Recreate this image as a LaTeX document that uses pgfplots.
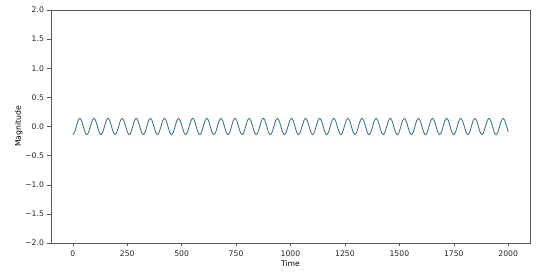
\documentclass[border=0pt]{standalone}
\usepackage{fontspec}
\setmainfont{DejaVu Sans}
\usepackage{pgfplots}
\pgfplotsset{compat=1.18}
\definecolor{lc}{RGB}{56,114,138}
\begin{document}
\begin{tikzpicture}
\begin{axis}[
  name=ax,
  width=479pt, height=233pt, scale only axis,
  xmin=-100, xmax=2100, ymin=-2, ymax=2,
  xtick={0,250,500,750,1000,1250,1500,1750,2000},
  xticklabels={0,250,500,750,1000,1250,1500,1750,2000},
  ytick={-2,-1.5,-1,-0.5,0,0.5,1,1.5,2},
  yticklabels={−2.0,−1.5,−1.0,−0.5,0.0,0.5,1.0,1.5,2.0},
  tick label style={font=\fontsize{7.7}{9}\selectfont, text=black!85},
  label style={font=\fontsize{7.7}{9}\selectfont},
  xlabel={Time}, ylabel={Magnitude},
  tick align=outside, tick pos=left,
  major tick length=3.5pt,
  axis line style={black!65},
  every tick/.style={black!65},
  xticklabel style={yshift=-0.5pt},
  xlabel style={yshift=3pt},
  ylabel style={yshift=-4pt},
]
\addplot[lc, line width=0.85pt, smooth] coordinates {
(0,-0.14)(8.1,-0.099)(16.2,0)(24.3,0.099)(32.4,0.14)(40.5,0.099)(48.6,0)(56.7,-0.099)
(64.8,-0.14)(72.9,-0.099)(81,0)(89.1,0.099)(97.2,0.14)(105.3,0.099)(113.4,0)(121.5,-0.099)
(129.6,-0.14)(137.7,-0.099)(145.8,0)(153.9,0.099)(162,0.14)(170.1,0.099)(178.2,0)(186.3,-0.099)
(194.4,-0.14)(202.5,-0.099)(210.6,0)(218.7,0.099)(226.8,0.14)(234.9,0.099)(243,0)(251.1,-0.099)
(259.2,-0.14)(267.3,-0.099)(275.4,0)(283.5,0.099)(291.6,0.14)(299.7,0.099)(307.8,0)(315.9,-0.099)
(324,-0.14)(332.1,-0.099)(340.2,0)(348.3,0.099)(356.4,0.14)(364.5,0.099)(372.6,0)(380.7,-0.099)
(388.8,-0.14)(396.9,-0.099)(405,0)(413.1,0.099)(421.2,0.14)(429.3,0.099)(437.4,0)(445.5,-0.099)
(453.6,-0.14)(461.7,-0.099)(469.8,0)(477.9,0.099)(486,0.14)(494.1,0.099)(502.2,0)(510.3,-0.099)
(518.4,-0.14)(526.5,-0.099)(534.6,0)(542.7,0.099)(550.8,0.14)(558.9,0.099)(567,0)(575.1,-0.099)
(583.2,-0.14)(591.3,-0.099)(599.4,0)(607.5,0.099)(615.6,0.14)(623.7,0.099)(631.8,0)(639.9,-0.099)
(648,-0.14)(656.1,-0.099)(664.2,0)(672.3,0.099)(680.4,0.14)(688.5,0.099)(696.6,0)(704.7,-0.099)
(712.8,-0.14)(720.9,-0.099)(729,0)(737.1,0.099)(745.2,0.14)(753.3,0.099)(761.4,0)(769.5,-0.099)
(777.6,-0.14)(785.7,-0.099)(793.8,0)(801.9,0.099)(810,0.14)(818.1,0.099)(826.2,0)(834.3,-0.099)
(842.4,-0.14)(850.5,-0.099)(858.6,0)(866.7,0.099)(874.8,0.14)(882.9,0.099)(891,0)(899.1,-0.099)
(907.2,-0.14)(915.3,-0.099)(923.4,0)(931.5,0.099)(939.6,0.14)(947.7,0.099)(955.8,0)(963.9,-0.099)
(972,-0.14)(980.1,-0.099)(988.2,0)(996.3,0.099)(1004.4,0.14)(1012.5,0.099)(1020.6,0)(1028.7,-0.099)
(1036.8,-0.14)(1044.9,-0.099)(1053,0)(1061.1,0.099)(1069.2,0.14)(1077.3,0.099)(1085.4,0)(1093.5,-0.099)
(1101.6,-0.14)(1109.7,-0.099)(1117.8,0)(1125.9,0.099)(1134,0.14)(1142.1,0.099)(1150.2,0)(1158.3,-0.099)
(1166.4,-0.14)(1174.5,-0.099)(1182.6,0)(1190.7,0.099)(1198.8,0.14)(1206.9,0.099)(1215,0)(1223.1,-0.099)
(1231.2,-0.14)(1239.3,-0.099)(1247.4,0)(1255.5,0.099)(1263.6,0.14)(1271.7,0.099)(1279.8,0)(1287.9,-0.099)
(1296,-0.14)(1304.1,-0.099)(1312.2,0)(1320.3,0.099)(1328.4,0.14)(1336.5,0.099)(1344.6,0)(1352.7,-0.099)
(1360.8,-0.14)(1368.9,-0.099)(1377,0)(1385.1,0.099)(1393.2,0.14)(1401.3,0.099)(1409.4,0)(1417.5,-0.099)
(1425.6,-0.14)(1433.7,-0.099)(1441.8,0)(1449.9,0.099)(1458,0.14)(1466.1,0.099)(1474.2,0)(1482.3,-0.099)
(1490.4,-0.14)(1498.5,-0.099)(1506.6,0)(1514.7,0.099)(1522.8,0.14)(1530.9,0.099)(1539,0)(1547.1,-0.099)
(1555.2,-0.14)(1563.3,-0.099)(1571.4,0)(1579.5,0.099)(1587.6,0.14)(1595.7,0.099)(1603.8,0)(1611.9,-0.099)
(1620,-0.14)(1628.1,-0.099)(1636.2,0)(1644.3,0.099)(1652.4,0.14)(1660.5,0.099)(1668.6,0)(1676.7,-0.099)
(1684.8,-0.14)(1692.9,-0.099)(1701,0)(1709.1,0.099)(1717.2,0.14)(1725.3,0.099)(1733.4,0)(1741.5,-0.099)
(1749.6,-0.14)(1757.7,-0.099)(1765.8,0)(1773.9,0.099)(1782,0.14)(1790.1,0.099)(1798.2,0)(1806.3,-0.099)
(1814.4,-0.14)(1822.5,-0.099)(1830.6,0)(1838.7,0.099)(1846.8,0.14)(1854.9,0.099)(1863,0)(1871.1,-0.099)
(1879.2,-0.14)(1887.3,-0.099)(1895.4,0)(1903.5,0.099)(1911.6,0.14)(1919.7,0.099)(1927.8,0)(1935.9,-0.099)
(1944,-0.14)(1952.1,-0.099)(1960.2,0)(1968.3,0.099)(1976.4,0.14)(1984.5,0.099)(1992.6,0)(2000,-0.092)
};
\end{axis}
\pgfresetboundingbox
\path ([shift={(-51pt,-33pt)}]ax.south west) rectangle ([shift={(10pt,10pt)}]ax.north east);
\end{tikzpicture}
\end{document}
